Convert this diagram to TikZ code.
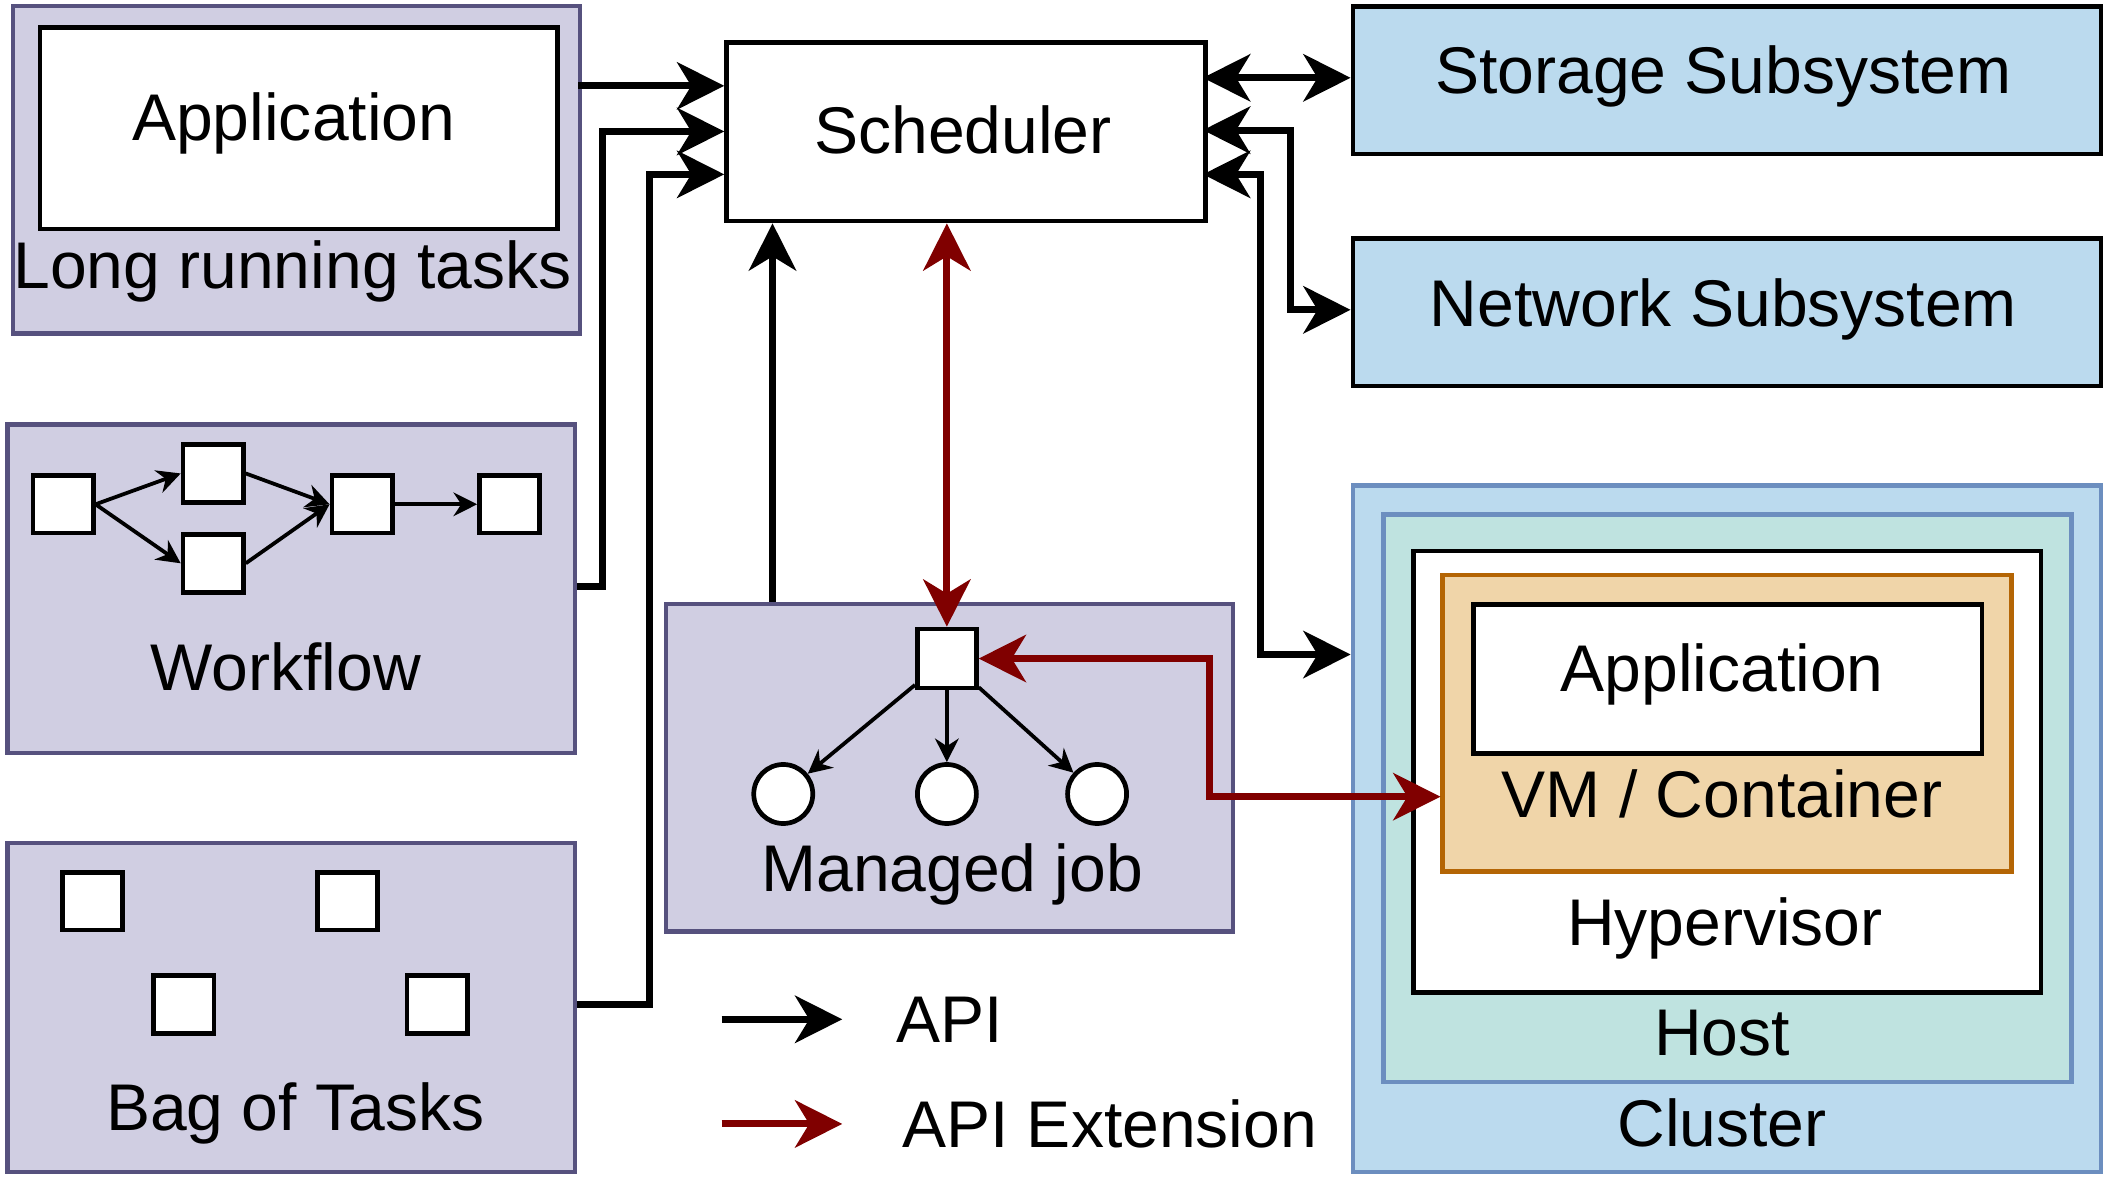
\documentclass[tikz,border=0pt]{standalone}
\usepackage{fontspec}
\setmainfont{Liberation Sans}
\usetikzlibrary{arrows.meta}
\definecolor{lav}{HTML}{D0CEE2}
\definecolor{lavb}{HTML}{56517E}
\definecolor{blu}{HTML}{BBDAEE}
\definecolor{blub}{HTML}{6C8EBF}
\definecolor{tea}{HTML}{BFE3E0}
\definecolor{tan}{HTML}{F0D5A9}
\definecolor{tanb}{HTML}{B46504}
\definecolor{dred}{HTML}{800000}
\begin{document}
\begin{tikzpicture}[x=0.01cm,y=-0.01cm,
 lbl/.style={font=\fontsize{14}{16}\selectfont, inner sep=0pt},
 grp/.style={draw=lavb, fill=lav, line width=0.9pt},
 sq/.style={draw, fill=white, line width=1pt},
 big/.style={line width=1.5pt, -{Stealth[length=10pt,width=10pt,inset=3pt]}},
 bigd/.style={line width=1.5pt, {Stealth[length=10pt,width=10pt,inset=3pt]}-{Stealth[length=10pt,width=10pt,inset=3pt]}},
 sm/.style={line width=0.8pt, -{Stealth[length=5pt,width=5pt]}}]
\useasboundingbox (0,0) rectangle (1568,878);
% long running tasks
\node[grp, minimum width=423*0.01cm, minimum height=244*0.01cm, anchor=north west] (lrt) at (8,3) {};
\node[sq, minimum width=386*0.01cm, minimum height=150*0.01cm, anchor=north west] (app1) at (28,19) {};
\node[lbl] at (219,92) {Application};
\node[lbl] at (218,202) {Long running tasks};
% workflow
\node[grp, minimum width=423*0.01cm, minimum height=245*0.01cm, anchor=north west] (wf) at (4,315) {};
\foreach \n/\x/\y in {w1/47/376,w2/159/353,w3/159/420,w4/270/376,w5/380/376}
  \node[sq, minimum width=45*0.01cm, minimum height=43*0.01cm] (\n) at (\x,\y) {};
\draw[sm] (w1.east) -- (w2.west); \draw[sm] (w1.east) -- (w3.west);
\draw[sm] (w2.east) -- (w4.west); \draw[sm] (w3.east) -- (w4.west);
\draw[sm] (w4.east) -- (w5.west);
\node[lbl] at (213,497) {Workflow};
% bag of tasks
\node[grp, minimum width=423*0.01cm, minimum height=245*0.01cm, anchor=north west] (bot) at (4,627) {};
\foreach \n/\x/\y in {b1/69/672,b2/259/672,b3/137/749,b4/326/749}
  \node[sq, minimum width=45*0.01cm, minimum height=43*0.01cm] (\n) at (\x,\y) {};
\node[lbl] at (220,830) {Bag of Tasks};
% scheduler
\node[sq, minimum width=357*0.01cm, minimum height=133*0.01cm, anchor=north west] (sch) at (540,30) {};
\node[lbl] at (718,97) {Scheduler};
% storage / network
\node[draw, fill=blu, line width=1pt, minimum width=558*0.01cm, minimum height=110*0.01cm, anchor=north west] (sto) at (1007,3) {};
\node[lbl] at (1285,57) {Storage Subsystem};
\node[draw, fill=blu, line width=1pt, minimum width=558*0.01cm, minimum height=110*0.01cm, anchor=north west] (net) at (1007,176) {};
\node[lbl] at (1285,231) {Network Subsystem};
% cluster
\node[draw=blub, fill=blu, line width=1pt, minimum width=558*0.01cm, minimum height=512*0.01cm, anchor=north west] (clu) at (1007,360) {};
\node[draw=blub, fill=tea, line width=1pt, minimum width=513*0.01cm, minimum height=423*0.01cm, anchor=north west] (host) at (1030,382) {};
\node[sq, minimum width=468*0.01cm, minimum height=329*0.01cm, anchor=north west] (hyp) at (1052,409) {};
\node[draw=tanb, fill=tan, line width=1pt, minimum width=424*0.01cm, minimum height=221*0.01cm, anchor=north west] (vm) at (1074,427) {};
\node[sq, minimum width=379*0.01cm, minimum height=111*0.01cm, anchor=north west] (app2) at (1097,449) {};
\node[lbl] at (1284,503) {Application};
\node[lbl] at (1284,592) {VM / Container};
\node[lbl] at (1286,692) {Hypervisor};
\node[lbl] at (1284,770) {Host};
\node[lbl] at (1284,837) {Cluster};
% managed job
\node[grp, minimum width=423*0.01cm, minimum height=244*0.01cm, anchor=north west] (mj) at (495,449) {};
\node[sq, minimum width=44*0.01cm, minimum height=44*0.01cm] (mroot) at (706,491) {};
\foreach \n/\x in {c1/584,c2/706,c3/818}
  \node[sq, circle, minimum size=44*0.01cm, inner sep=0pt] (\n) at (\x,592) {};
\draw[sm] (mroot) -- (c1); \draw[sm] (mroot) -- (c2); \draw[sm] (mroot) -- (c3);
\node[lbl] at (710,652) {Managed job};
% connectors
\coordinate (s1) at (540,64); \coordinate (s2) at (540,98); \coordinate (s3) at (540,130);
\draw[big] (431,64) -- (s1);
\draw[big] (wf.east |- 0,437) -| (449,98) -- (s2);
\draw[big] (bot.east |- 0,749) -| (484,130) -- (s3);
\draw[big] (576,449) -- (sch.south -| 576,0);
\draw[bigd, draw=dred] (sch.south -| 706,0) -- (mroot.north);
\draw[bigd, draw=dred] (mroot.east) -- (902,491) |- (vm.west |- 0,594);
\draw[bigd] (897,58) -- (sto.west |- 0,58);
\draw[bigd] (897,97) -- (962,97) |- (net.west |- 0,231);
\draw[bigd] (897,130) -- (940,130) |- (clu.west |- 0,488);
% legend
\coordinate (la) at (538,760); \coordinate (lb) at (628,760);
\coordinate (lc) at (538,838); \coordinate (ld) at (628,838);
\draw[big] (la) -- (lb);
\draw[big, draw=dred] (lc) -- (ld);
\node[lbl, anchor=west] at (668,760) {API};
\node[lbl, anchor=west] at (672,838) {API Extension};
\end{tikzpicture}
\end{document}
